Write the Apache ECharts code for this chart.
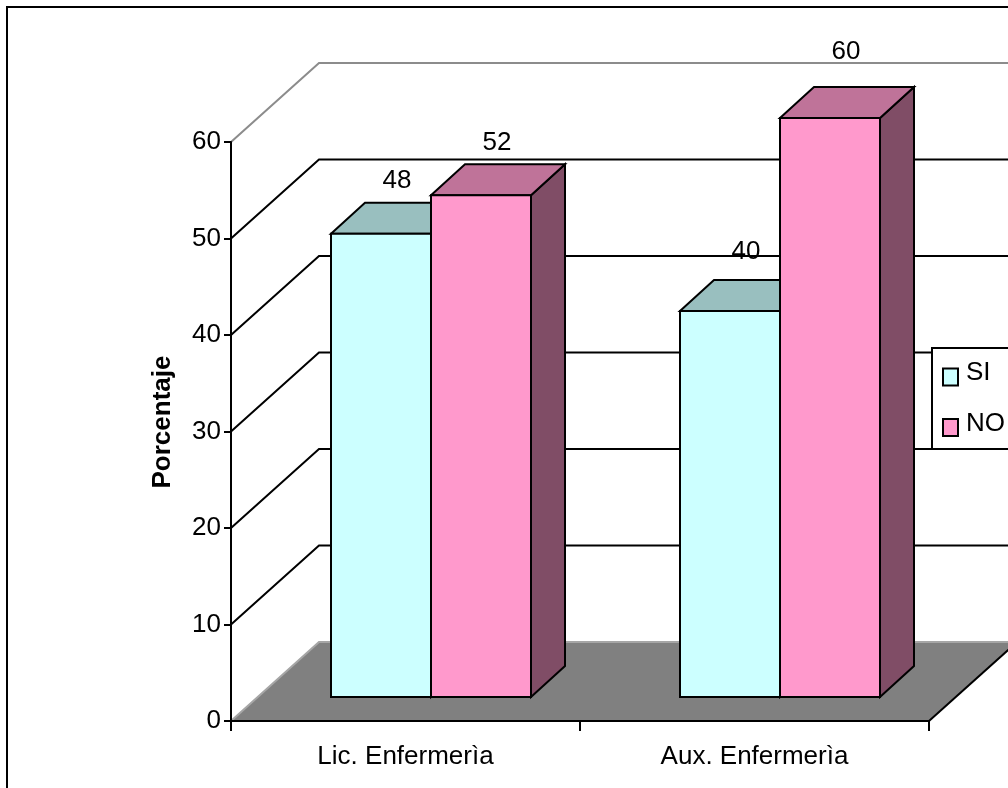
<!DOCTYPE html>
<html>
<head>
<meta charset="utf-8">
<style>
  html, body { margin: 0; padding: 0; background: #fff; overflow: hidden; }
  #main { width: 1008px; height: 788px; }
</style>
<script src="https://cdn.jsdelivr.net/npm/echarts@6/dist/echarts.min.js"></script>
</head>
<body>
<div id="main"></div>
<script>
const categories = ["Lic. Enfermerìa", "Aux. Enfermerìa"];
const siValues = [48, 40];
const noValues = [52, 60];
const yTicks = [0, 10, 20, 30, 40, 50, 60];

const fontFamily = '"Liberation Sans", Arial, sans-serif';
const fontSize = 26;

// depth of the fake 3d box, in pixels
const wallDx = 88;
const wallDy = 79;
const barDx = 34;
const barDy = 31;
const barShiftX = 25.5;
const barShiftY = 24;
const barRatio = 100 / 349;
// how far each value label sits above its bar, the original is not regular here
const siLabelLift = [22, 28];
const noLabelLift = [21, 35];

function poly(points, fill, stroke, lineWidth) {
  return {
    type: "polygon",
    shape: { points: points },
    style: { fill: fill, stroke: stroke, lineWidth: lineWidth || 2, lineJoin: "miter" }
  };
}

function line(points, stroke, lineWidth) {
  return {
    type: "polyline",
    shape: { points: points },
    style: { fill: null, stroke: stroke, lineWidth: lineWidth }
  };
}

// one renderItem per series: slot 0 is left of the category centre, slot 1 right
function barRender(slot, front, top, side, lift) {
  return function (params, api) {
    const p = api.coord([api.value(0), api.value(1)]);
    const base = api.coord([api.value(0), 0]);
    const w = api.size([1, 0])[0] * barRatio;
    const x0 = p[0] + barShiftX - w + slot * w;
    const x1 = x0 + w;
    const y0 = p[1] - barShiftY;
    const y1 = base[1] - barShiftY;
    return {
      type: "group",
      children: [
        poly([[x1, y0], [x1 + barDx, y0 - barDy], [x1 + barDx, y1 - barDy], [x1, y1]], side, "#000"),
        poly([[x0, y0], [x0 + barDx, y0 - barDy], [x1 + barDx, y0 - barDy], [x1, y0]], top, "#000"),
        poly([[x0, y0], [x1, y0], [x1, y1], [x0, y1]], front, "#000"),
        {
          type: "text",
          style: {
            text: String(api.value(1)),
            x: (x0 + x1) / 2 + 16,
            y: y0 - barDy - lift[params.dataIndex],
            fill: "#000",
            font: fontSize + "px " + fontFamily,
            textAlign: "center",
            textVerticalAlign: "middle"
          }
        }
      ]
    };
  };
}

function wallRender(params, api) {
  const v = api.value(1);
  const half = api.size([1, 0])[0] / 2;
  const y = api.coord([0, v])[1];
  const left = api.coord([0, v])[0] - half;
  const right = api.coord([categories.length - 1, v])[0] + half;
  if (v === 0) {
    return {
      type: "group",
      children: [
        poly([[left, y], [left + wallDx, y - wallDy], [right + wallDx, y - wallDy], [right, y]], "#808080", null, 0),
        line([[left, y], [left + wallDx, y - wallDy], [right + wallDx, y - wallDy]], "#a6a6a6", 2),
        line([[right, y], [right + wallDx, y - wallDy]], "#000", 2)
      ]
    };
  }
  return line(
    [[left, y], [left + wallDx, y - wallDy], [right + wallDx, y - wallDy]],
    v === yTicks[yTicks.length - 1] ? "#8c8c8c" : "#000",
    2
  );
}

const chart = echarts.init(document.getElementById("main"));
chart.setOption({
  animation: false,
  backgroundColor: "#fff",
  textStyle: { fontFamily: fontFamily },
  graphic: [
    {
      type: "rect",
      shape: { x: 7, y: 7, width: 1030, height: 810 },
      style: { fill: null, stroke: "#000", lineWidth: 2 },
      silent: true
    }
  ],
  grid: { left: 231, top: 142, right: 79, bottom: 67 },
  legend: {
    data: ["SI", "NO"],
    orient: "vertical",
    left: 932,
    top: 348,
    padding: [12, 12, 12, 10],
    itemGap: 24,
    itemWidth: 15,
    itemHeight: 17,
    backgroundColor: "#fff",
    borderColor: "#000",
    borderWidth: 2,
    borderRadius: 0,
    icon: "rect",
    formatter: "{t|{name}}",
    textStyle: {
      fontSize: fontSize,
      fontFamily: fontFamily,
      color: "#000",
      rich: {
        t: { fontSize: fontSize, fontFamily: fontFamily, color: "#000", padding: [0, 0, 8, 3] }
      }
    },
    itemStyle: { borderColor: "#000", borderWidth: 2 }
  },
  xAxis: {
    type: "category",
    data: categories,
    z: 3,
    axisLine: { lineStyle: { color: "#000", width: 2 } },
    axisTick: { show: true, alignWithLabel: false, length: 10, lineStyle: { color: "#000", width: 2 } },
    axisLabel: { color: "#000", fontSize: fontSize, fontFamily: fontFamily, margin: 23 },
    splitLine: { show: false }
  },
  yAxis: {
    type: "value",
    min: 0,
    max: 60,
    interval: 10,
    z: 3,
    name: "Porcentaje",
    nameLocation: "middle",
    nameRotate: 90,
    nameGap: 55,
    nameTextStyle: { color: "#000", fontSize: fontSize, fontWeight: "bold", fontFamily: fontFamily, padding: [0, 0, 0, 19] },
    axisLine: { show: true, lineStyle: { color: "#000", width: 2 } },
    axisTick: { show: true, length: 7, lineStyle: { color: "#000", width: 2 } },
    axisLabel: { color: "#000", fontSize: fontSize, fontFamily: fontFamily, margin: 10, padding: [0, 0, 12, 0] },
    splitLine: { show: false }
  },
  series: [
    {
      name: "wall",
      type: "custom",
      z: 1,
      silent: true,
      data: yTicks.map(function (v) { return [0, v]; }),
      renderItem: wallRender
    },
    {
      name: "SI",
      type: "custom",
      z: 2,
      itemStyle: { color: "#CCFFFF" },
      data: siValues.map(function (v, i) { return [i, v]; }),
      renderItem: barRender(0, "#CCFFFF", "#99BFBF", "#668080", siLabelLift)
    },
    {
      name: "NO",
      type: "custom",
      z: 2,
      itemStyle: { color: "#FF99CC" },
      data: noValues.map(function (v, i) { return [i, v]; }),
      renderItem: barRender(1, "#FF99CC", "#BF7399", "#804D66", noLabelLift)
    }
  ]
});
</script>
</body>
</html>
